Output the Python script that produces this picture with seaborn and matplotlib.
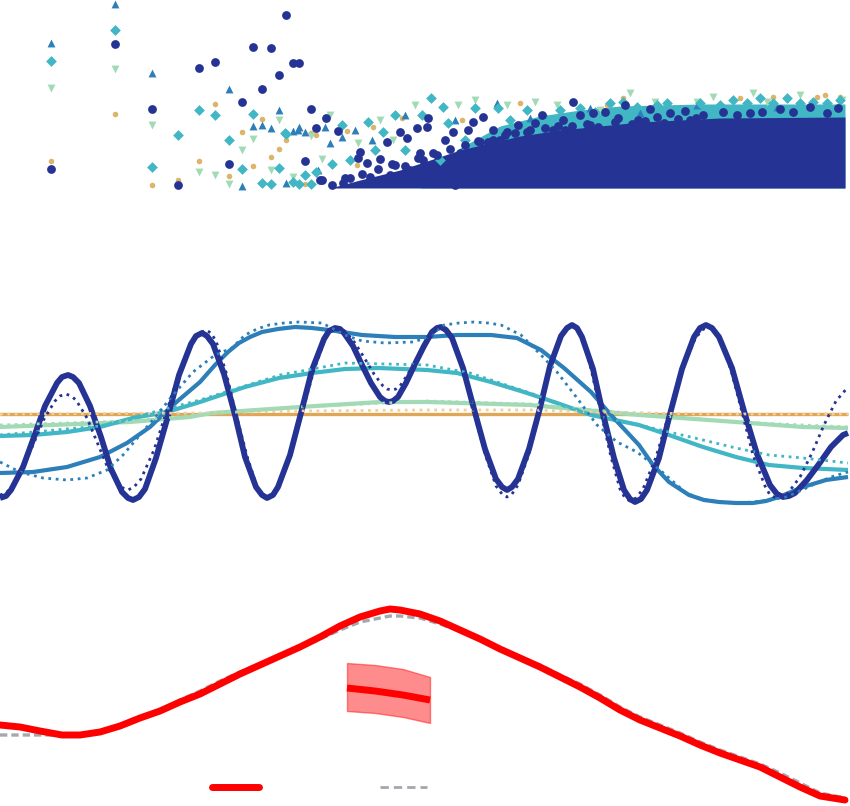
import matplotlib
matplotlib.use("Agg")
import matplotlib.pyplot as plt
from matplotlib.lines import Line2D
import seaborn as sns

# ---- colours
NAVY = "#253494"
BLUE = "#2c7fb8"
TEAL = "#41b6c4"
GREEN = "#a1dab4"
GOLD = "#dcb46a"
GOLD_LINE = "#dfa656"
RED = "#ff0000"
GREY = "#a3a8ad"

# ---- top panel: scatter values (x, y)
navy_x = [51, 115, 152, 178, 199, 215, 229, 242, 253, 262, 271, 279, 286, 293, 299,
          305, 311, 316, 320, 326, 338, 322, 332, 343, 350, 360, 358, 367, 370, 380,
          380, 387, 390, 395, 398, 400, 407, 410, 413, 417, 420, 423, 427, 428, 433,
          433, 440, 445, 447, 453, 458, 460, 467, 468, 473, 480, 483, 488, 493, 500,
          507, 518, 527, 535, 542, 547, 553, 563, 565, 500, 520, 540, 575, 590, 610,
          630, 660, 690, 475, 510, 455,
          345, 362, 378, 392, 405, 418, 437, 450, 465, 478, 493, 505, 515, 530, 545, 558,
          572, 587, 598, 615, 632, 645, 664, 678, 696,
          573, 580, 593, 605, 618, 625, 638, 650, 657, 670, 685, 703, 723, 737, 750,
          762, 780, 793, 810, 827, 838]
navy_y = [19, 144, 79, 3, 120, 126, 24, 86, 141, 99, 140, 113, 173, 125, 125,
          27, 79, 60, 8, 70, 57, 8, 3, 5, 10, 36, 30, 25, 11, 29,
          5, 46, 13, 23, 5, 56, 50, 18, 8, 60, 35, 28, 61, 70, 35,
          11, 16, 48, 6, 56, 18, 35, 11, 58, 66, 46, 71, 46, 58, 33,
          56, 63, 56, 65, 73, 50, 58, 68, 58, 48, 38, 43, 53, 63, 58,
          60, 63, 68, 28, 23, 3,
          10, 14, 19, 24, 22, 30, 33, 39, 43, 47, 48, 53, 55, 58, 60, 62,
          62, 64, 61, 66, 64, 67, 65, 69, 70,
          86, 73, 75, 76, 70, 83, 68, 79, 71, 75, 77, 73, 76, 73, 75,
          76, 79, 76, 81, 75, 80]

teal_x = [51, 115, 152, 178, 199, 215, 229, 242, 253, 262, 271, 279, 286, 293, 299,
          311, 316, 285, 332, 342, 368, 383, 395, 422, 431, 443, 448, 475, 498, 527,
          305, 350, 375, 405, 440, 465, 510, 545, 560, 580, 595,
          610, 623, 637, 657, 667, 700, 720, 733, 747, 760, 773, 787, 800, 813, 827, 840]
teal_y = [127, 158, 21, 53, 78, 73, 48, 19, 74, 5, 4, 20, 54, 6, 4,
          4, 16, 55, 24, 63, 66, 56, 73, 73, 90, 81, 65, 80, 80, 78,
          13, 28, 38, 38, 28, 48, 68, 70, 78, 80, 76,
          85, 86, 81, 83, 85, 85, 83, 88, 85, 90, 85, 90, 85, 86, 85, 88]

blue_x = [51, 115, 152, 229, 242, 253, 262, 271, 279, 286, 293, 299, 305, 298, 330,
          325, 342, 372, 405, 497, 318, 640, 697, 777, 355, 455, 530, 590]
blue_y = [145, 184, 115, 99, 2, 62, 63, 60, 78, 5, 57, 61, 56, 58, 45,
          61, 51, 48, 73, 85, 18, 75, 83, 81, 58, 68, 70, 80]

green_x = [51, 115, 152, 199, 215, 229, 242, 253, 271, 279, 293, 311, 330, 358, 380,
           393, 458, 507, 535, 557, 322, 630, 655, 697, 713, 753, 767, 800, 842, 600,
           415, 475]
green_y = [100, 119, 63, 16, 13, 4, 38, 49, 18, 68, 11, 52, 73, 45, 68,
           48, 83, 83, 86, 83, 29, 95, 86, 86, 91, 95, 86, 93, 88, 78,
           83, 88]

gold_x = [51, 115, 152, 178, 199, 215, 229, 242, 253, 262, 271, 279, 286, 305, 311,
          316, 347, 373, 402, 462, 520, 357, 607, 623, 740, 773, 817, 825, 840]
gold_y = [27, 74, 3, 8, 27, 84, 12, 56, 22, 69, 31, 39, 48, 4, 55,
          53, 57, 61, 70, 68, 85, 23, 83, 90, 90, 91, 91, 93, 91]

# upper edges of the solid, overplotted part of the cloud
navy_band_x = [330, 360, 400, 430, 460, 490, 520, 560, 600, 640, 680, 720, 845]
navy_band_top = [0, 8, 18, 28, 38, 45, 52, 58, 62, 66, 68, 70, 71]
teal_band_x = [420, 460, 500, 540, 580, 620, 700, 845]
teal_band_top = [0, 40, 62, 72, 78, 82, 84, 84]

# ---- middle panel: lines (x, y)
navy_lx = [0, 11, 23, 34, 45, 57, 68, 79, 90, 101, 111, 122, 133,
           145, 156, 168, 179, 191, 202, 213, 224, 235, 245, 256, 267,
           278, 290, 301, 312, 324, 335, 344, 353, 362, 371, 380, 389,
           398, 406, 415, 424, 432, 441, 452, 463, 474, 485, 496, 507,
           518, 529, 540, 550, 561, 572, 582, 593, 603, 614, 624, 635,
           647, 659, 670, 682, 694, 706, 719, 732, 744, 757, 770, 783,
           795, 807, 819, 831, 843, 848,
           # extra readings close to the turning points
           6, 62, 73, 128, 139, 196, 207, 262, 273, 329, 340, 385, 393,
           437, 446, 502, 512, 567, 577, 630, 641, 700, 712, 777, 789]
navy_ly = [17, 25, 48, 78, 109, 132, 140, 132, 109, 78, 46, 23, 15,
           26, 57, 99, 140, 171, 182, 171, 141, 100, 58, 28, 17,
           28, 60, 102, 145, 176, 187, 182, 169, 150, 132, 118, 113,
           118, 132, 151, 169, 183, 188, 177, 147, 106, 66, 36, 25,
           36, 66, 107, 149, 179, 190, 178, 146, 101, 57, 25, 13,
           25, 57, 101, 146, 178, 190, 178, 147, 104, 61, 30, 18,
           22, 35, 51, 68, 80, 82,
           19, 138, 138, 17, 18, 179, 179, 20, 20, 184, 186, 114, 114,
           187, 185, 28, 28, 187, 187, 16, 16, 187, 187, 21, 19]
navy_dx = [0, 11, 22, 33, 44, 55, 66, 76, 87, 97, 107, 118, 128,
           141, 154, 167, 180, 193, 206, 216, 226, 236, 247, 257, 267,
           279, 290, 302, 314, 325, 337, 346, 355, 365, 374, 383, 392,
           400, 408, 417, 425, 433, 441, 452, 463, 474, 485, 496, 507,
           518, 529, 540, 550, 561, 572, 582, 591, 601, 611, 620, 630,
           643, 656, 669, 682, 695, 708, 719, 731, 742, 753, 765, 776,
           788, 800, 812, 824, 836, 848,
           6, 60, 71, 123, 134, 200, 211, 262, 273, 331, 342, 387, 396,
           437, 446, 502, 512, 567, 577, 625, 636, 702, 714, 770, 782]
navy_dy = [20, 27, 45, 70, 96, 114, 121, 115, 97, 73, 49, 31, 25,
           36, 65, 105, 145, 174, 185, 174, 143, 101, 59, 28, 17,
           28, 60, 102, 145, 176, 187, 183, 172, 156, 141, 129, 125,
           129, 141, 157, 172, 184, 188, 177, 146, 103, 61, 29, 18,
           30, 61, 104, 147, 179, 190, 178, 146, 102, 58, 26, 14,
           26, 58, 101, 145, 176, 188, 177, 145, 103, 60, 29, 17,
           22, 38, 62, 90, 114, 128,
           22, 119, 119, 27, 28, 182, 182, 20, 20, 184, 186, 126, 126,
           187, 185, 21, 21, 187, 187, 17, 17, 185, 185, 20, 18]

blue_lx = [0, 33, 67, 100, 127, 150, 173, 200, 215, 228, 239, 250, 262, 278, 295,
           312, 329, 362, 395, 427, 457, 491, 517, 541, 564, 591, 611, 625, 639,
           653, 669, 689, 704, 719, 736, 753, 766, 779, 791, 803, 826, 848]
blue_ly = [42, 43, 48, 58, 72, 88, 110, 133, 150, 163, 172, 178, 183, 186, 188,
           187, 185, 180, 178, 178, 180, 180, 177, 165, 147, 123, 100, 85, 70,
           50, 33, 20, 15, 13, 12, 12, 14, 18, 23, 28, 35, 38]
blue_dx = [0, 20, 43, 67, 87, 107, 123, 140, 157, 173, 193, 215, 232, 245, 257, 269,
           284, 299, 322, 345, 362, 385, 412, 427, 436, 444, 459, 474, 488, 501, 521,
           541, 557, 577, 597, 617, 637, 660, 686, 702, 719, 736, 753, 770, 786, 802,
           819, 834, 848]
blue_dy = [53, 43, 37, 35, 37, 45, 60, 80, 100, 120, 143, 160, 167, 180, 186, 190,
           192, 193, 192, 180, 174, 172, 173, 177, 184, 190, 192, 193, 192, 190, 180,
           160, 143, 117, 90, 73, 63, 45, 22, 16, 13, 12, 13, 15, 18, 25,
           33, 39, 43]

teal_lx = [0, 33, 67, 100, 133, 167, 200, 215, 245, 279, 312, 345, 379, 427,
           457, 491, 524, 557, 591, 639, 669, 703, 736, 769, 803, 848]
teal_ly = [79, 80, 83, 88, 97, 103, 113, 118, 128, 137, 142, 146, 147, 145,
           142, 133, 123, 112, 100, 90, 80, 68, 58, 50, 47, 45]
teal_dx = [0, 100, 200, 280, 345, 427, 470, 530, 591, 639, 669, 703, 736, 769, 803, 848]
teal_dy = [80, 89, 115, 140, 152, 150, 142, 122, 100, 90, 83, 75, 67, 60, 57, 52]

green_lx = [0, 130, 190, 212, 300, 380, 427, 530, 639, 736, 803, 848]
green_ly = [88, 93, 98, 102, 108, 113, 113, 110, 100, 93, 88, 87]
green_dx = [0, 130, 212, 300, 427, 530, 639, 736, 848]
green_dy = [90, 94, 101, 108, 114, 111, 101, 93, 88]

gold_lx = [0, 848]
gold_ly = [101, 101]
gold_dx = [0, 200, 300, 427, 530, 600, 700, 848]
gold_dy = [101, 102, 104, 105, 105, 103, 101, 101]

# ---- bottom panel: curves (x, y)
red_x = [0, 20, 40, 62, 80, 100, 120, 140, 160, 180, 200, 220, 240, 260, 280, 300,
         320, 340, 360, 380, 390, 400, 420, 440, 460, 480, 500, 520, 540, 560, 580,
         600, 620, 640, 660, 680, 700, 720, 740, 760, 780, 800, 820, 845]
red_y = [81, 79, 75, 71, 71, 74, 80, 88, 95, 104, 112, 122, 132, 141, 150, 159,
         169, 180, 189, 195, 197, 196, 192, 185, 176, 167, 157, 148, 139, 129, 119,
         108, 96, 86, 78, 70, 61, 53, 46, 39, 29, 19, 10, 6]
grey_y = [71, 71, 71, 71, 71, 74, 80, 88, 96, 106, 115, 125, 134, 142, 150, 158,
          167, 176, 184, 188, 190, 190, 188, 182, 175, 167, 158, 149, 141, 131, 122,
          111, 99, 89, 81, 73, 64, 56, 49, 42, 33, 23, 13, 8]
band_x = [347, 375, 403, 430]
band_mid = [118, 115, 111, 106]
band_lo = [95, 93, 89, 83]
band_hi = [143, 141, 137, 129]


sns.set_theme(style="white")
fig = plt.figure(figsize=(8.5, 8.06), dpi=100)
H = 806.0
ax_top = fig.add_axes([0, 1 - 195 / H, 1, 195 / H])
ax_mid = fig.add_axes([0, 1 - 515 / H, 1, 205 / H])
ax_bot = fig.add_axes([0, 0, 1, 216 / H])

# top: scatter cloud
ax_top.fill_between(teal_band_x, 0, teal_band_top, color=TEAL, lw=0)
ax_top.fill_between(navy_band_x, 0, navy_band_top, color=NAVY, lw=0)
sns.scatterplot(x=gold_x, y=gold_y, ax=ax_top, color=GOLD, marker="o", s=16, linewidth=0)
sns.scatterplot(x=green_x, y=green_y, ax=ax_top, color=GREEN, marker="v", s=32, linewidth=0)
sns.scatterplot(x=blue_x, y=blue_y, ax=ax_top, color=BLUE, marker="^", s=32, linewidth=0)
sns.scatterplot(x=teal_x, y=teal_y, ax=ax_top, color=TEAL, marker="D", s=30, linewidth=0)
sns.scatterplot(x=navy_x, y=navy_y, ax=ax_top, color=NAVY, marker="o", s=40, linewidth=0)
ax_top.set_xlim(0, 850)
ax_top.set_ylim(-7, 188)

# middle: solid lines then dotted companions
solid = [(gold_lx, gold_ly, GOLD_LINE, 2.4), (green_lx, green_ly, GREEN, 3.0),
         (teal_lx, teal_ly, TEAL, 3.0), (blue_lx, blue_ly, BLUE, 3.0),
         (navy_lx, navy_ly, NAVY, 4.2)]
for xs, ys, c, w in solid:
    sns.lineplot(x=xs, y=ys, ax=ax_mid, color=c, lw=w, estimator=None,
                 solid_capstyle="butt", solid_joinstyle="round")
dotted = [(gold_dx, gold_dy, "#f2cf9a"), (green_dx, green_dy, GREEN),
          (teal_dx, teal_dy, TEAL), (blue_dx, blue_dy, BLUE), (navy_dx, navy_dy, NAVY)]
for xs, ys, c in dotted:
    sns.lineplot(x=xs, y=ys, ax=ax_mid, color=c, lw=2.0, linestyle=":", estimator=None)
ax_mid.set_xlim(0, 850)
ax_mid.set_ylim(0, 205)

# bottom: density-like curves and the small band
sns.lineplot(x=red_x, y=grey_y, ax=ax_bot, color=GREY, lw=2.4,
             linestyle=(0, (2.2, 1.2)), estimator=None)
sns.lineplot(x=red_x, y=red_y, ax=ax_bot, color=RED, lw=5, estimator=None,
             solid_joinstyle="round")
ax_bot.fill_between(band_x, band_lo, band_hi, color=RED, alpha=0.45, lw=1)
sns.lineplot(x=band_x, y=band_mid, ax=ax_bot, color=RED, lw=5, estimator=None,
             solid_capstyle="butt")
ax_bot.set_xlim(0, 850)
ax_bot.set_ylim(0, 216)

for ax in (ax_top, ax_mid, ax_bot):
    ax.set_axis_off()
    if ax.get_legend() is not None:
        ax.get_legend().remove()
    for art in ax.collections + ax.lines:
        art.set_clip_on(False)

handles = [Line2D([], [], color=RED, lw=5, solid_capstyle="round"),
           Line2D([], [], color=GREY, lw=2.0, linestyle=(0, (3, 1.8)))]
fig.legend(handles, ["", ""], loc="center left", ncol=2, frameon=False,
           bbox_to_anchor=(211.5 / 850, 1 - 788 / H), handlelength=3.1,
           handletextpad=0.0, columnspacing=7.9, borderpad=0, borderaxespad=0)

fig.savefig("out.png", dpi=100, facecolor="white")
